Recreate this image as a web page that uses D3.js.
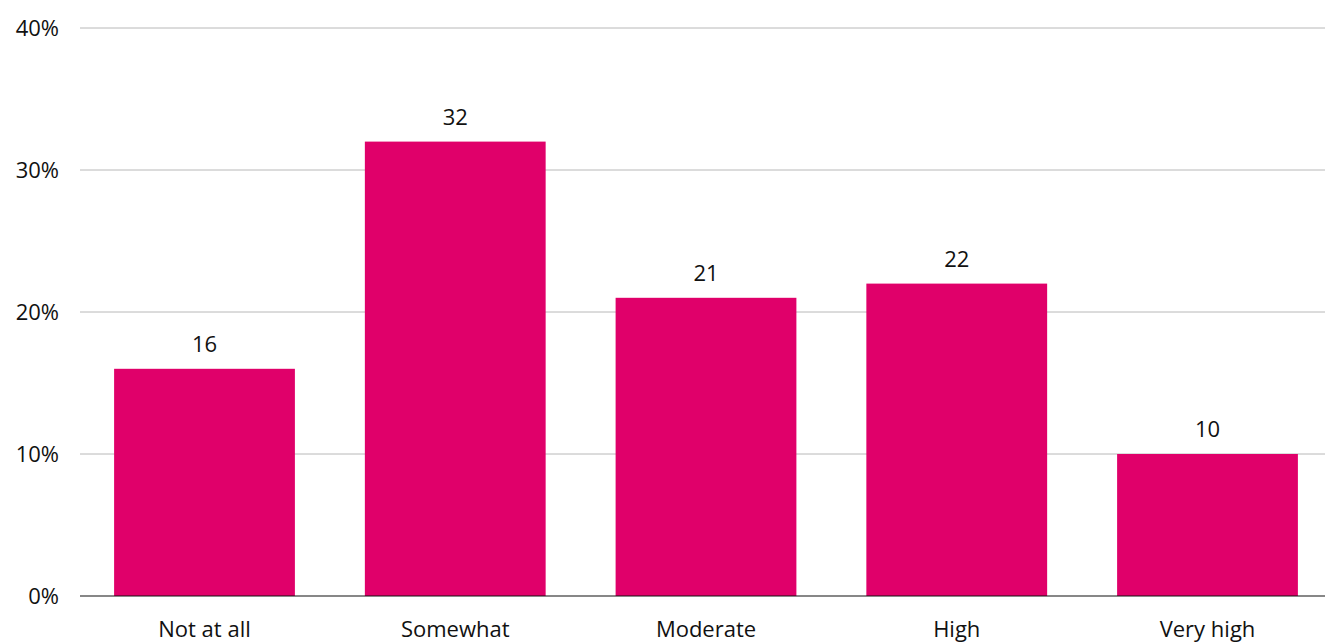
<!DOCTYPE html>
<html>
<head>
<meta charset="utf-8">
<script src="https://cdn.jsdelivr.net/npm/d3@7"></script>
<style>
  body { margin: 0; background: #fff; }
  text { font-family: "Open Sans", "Noto Sans", sans-serif; fill: #111; }
</style>
</head>
<body>
<div id="chart"></div>
<script>
var categories = ["Not at all", "Somewhat", "Moderate", "High", "Very high"];
var values = [16, 32, 21, 22, 10];
var yTicks = [0, 10, 20, 30, 40];

var width = 1325, height = 644;
var margin = {top: 28, left: 80, bottom: 48};
var fontSize = "22px";

var svg = d3.select("#chart")
  .append("svg")
    .attr("width", width)
    .attr("height", height);

var y = d3.scaleLinear()
  .domain([0, 40])
  .range([height - margin.bottom, margin.top]);

var x = d3.scaleBand()
  .domain(categories)
  .range([79, 1333])
  .paddingInner(0.279)
  .paddingOuter(0.14);

// gridlines
svg.append("g")
  .selectAll("line")
  .data(yTicks.slice(1))
  .enter()
  .append("line")
  .attr("x1", margin.left)
  .attr("x2", width)
  .attr("y1", function(d) { return y(d); })
  .attr("y2", function(d) { return y(d); })
  .attr("stroke", "#b8b8b8")
  .attr("stroke-width", 1);

// y labels
svg.append("g")
  .selectAll("text")
  .data(yTicks)
  .enter()
  .append("text")
  .attr("x", 59)
  .attr("y", function(d) { return y(d) + 8; })
  .style("text-anchor", "end")
  .style("font-size", fontSize)
  .text(function(d) { return d + "%"; });

// bars
svg.append("g")
  .selectAll("rect")
  .data(values)
  .enter()
  .append("rect")
  .attr("x", function(d, i) { return x(categories[i]); })
  .attr("y", function(d) { return y(d); })
  .attr("width", x.bandwidth())
  .attr("height", function(d) { return y(0) - y(d); })
  .attr("fill", "#e0006a");

// value labels
svg.append("g")
  .selectAll("text")
  .data(values)
  .enter()
  .append("text")
  .attr("x", function(d, i) { return x(categories[i]) + x.bandwidth() / 2; })
  .attr("y", function(d) { return y(d) - 17; })
  .style("text-anchor", "middle")
  .style("font-size", fontSize)
  .text(function(d) { return d; });

// baseline
svg.append("line")
  .attr("x1", margin.left)
  .attr("x2", width)
  .attr("y1", y(0))
  .attr("y2", y(0))
  .attr("stroke", "#111")
  .attr("stroke-width", 1.2);

// category labels
svg.append("g")
  .selectAll("text")
  .data(categories)
  .enter()
  .append("text")
  .attr("x", function(d) { return x(d) + x.bandwidth() / 2; })
  .attr("y", y(0) + 41)
  .style("text-anchor", "middle")
  .style("font-size", fontSize)
  .text(function(d) { return d; });
</script>
</body>
</html>
